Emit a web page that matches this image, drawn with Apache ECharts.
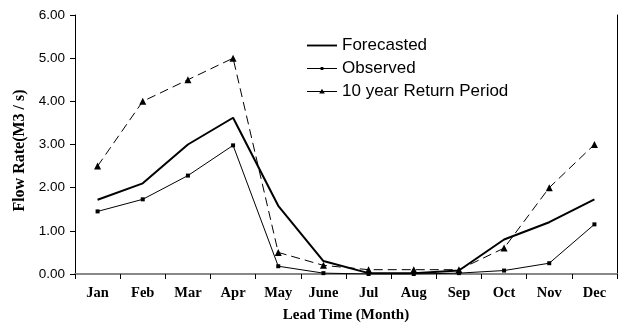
<!DOCTYPE html>
<html><head><meta charset="utf-8">
<script src="https://cdn.jsdelivr.net/npm/echarts@6/dist/echarts.min.js"></script>
<style>html,body{margin:0;padding:0;background:#fff}#c{width:619px;height:324px}</style>
</head><body><div id="c"></div>
<script>
var months = ['Jan','Feb','Mar','Apr','May','June','Jul','Aug','Sep','Oct','Nov','Dec'];
var forecasted = [1.72, 2.10, 3.00, 3.62, 1.58, 0.30, 0.02, 0.02, 0.08, 0.80, 1.20, 1.73];
var observed = [1.45, 1.73, 2.28, 2.98, 0.18, 0.02, 0.00, 0.00, 0.02, 0.08, 0.25, 1.15];
var returnPeriod = [2.50, 4.00, 4.50, 5.00, 0.50, 0.20, 0.10, 0.10, 0.10, 0.60, 2.00, 3.00];
var yTicks = [0, 1, 2, 3, 4, 5, 6];

var serif = 'Liberation Serif, Times New Roman, serif';
var sans = 'Liberation Sans, Arial, sans-serif';
var chart = echarts.init(document.getElementById('c'));
chart.setOption({
  animation: false,
  backgroundColor: '#fff',
  grid: {left: 75, right: 2, top: 15, bottom: 50, containLabel: false, outerBoundsMode: 'none'},
  legend: {
    left: 307, top: 37, orient: 'vertical', itemGap: 6, padding: 0,
    itemWidth: 30, itemHeight: 10,
    textStyle: {fontFamily: sans, fontSize: 17, color: '#000'},
    data: [
      {name: 'Forecasted', icon: 'path://M0,0 M32,10 M0,4 L32,4 L32,6 L0,6 Z'},
      {name: 'Observed', icon: 'path://M0,0 M32,10 M0,4.5 L32,4.5 L32,5.5 L0,5.5 Z M14.5,3.5 L17.5,3.5 L17.5,6.5 L14.5,6.5 Z'},
      {name: '10 year Return Period', icon: 'path://M0,0 M32,10 M0,4.5 L32,4.5 L32,5.5 L0,5.5 Z M16,2 L19,7 L13,7 Z'}
    ]
  },
  xAxis: [{
    type: 'category', data: months, boundaryGap: true,
    axisLine: {lineStyle: {color: '#000', width: 1}},
    axisTick: {show: true, alignWithLabel: false, length: 5, lineStyle: {color: '#000'}},
    axisLabel: {fontFamily: serif, fontWeight: 'bold', fontSize: 14.5, color: '#000', margin: 12},
    name: 'Lead Time (Month)', nameLocation: 'middle', nameGap: 34,
    nameTextStyle: {fontFamily: serif, fontWeight: 'bold', fontSize: 15, color: '#000'}
  }, {
    type: 'category', data: months, position: 'top',
    axisLine: {lineStyle: {color: '#888', width: 2}},
    axisTick: {show: false}, axisLabel: {show: false}
  }],
  yAxis: [{
    type: 'value', min: yTicks[0], max: yTicks[yTicks.length - 1], interval: 1,
    axisLine: {show: true, lineStyle: {color: '#000'}},
    axisTick: {show: true, length: 5, inside: false, lineStyle: {color: '#000'}},
    splitLine: {show: false},
    axisLabel: {fontFamily: sans, fontSize: 13.5, color: '#000', margin: 10,
      formatter: function (v) { return v.toFixed(2); }},
    name: 'Flow Rate(M3 / s)', nameLocation: 'middle', nameGap: 47, nameRotate: 90,
    nameTextStyle: {fontFamily: serif, fontWeight: 'bold', fontSize: 16, color: '#000', padding: [0, 12, 0, 0]}
  }, {
    type: 'value', min: 0, max: 6, interval: 1, position: 'right',
    axisLine: {show: true, lineStyle: {color: '#000'}},
    axisTick: {show: false}, axisLabel: {show: false}, splitLine: {show: false}
  }],
  series: [{
    name: 'Forecasted', type: 'line', data: forecasted,
    showSymbol: false, symbol: 'none',
    lineStyle: {color: '#000', width: 2}, itemStyle: {color: '#000'}
  }, {
    name: 'Observed', type: 'line', data: observed,
    symbol: 'rect', symbolSize: 4,
    lineStyle: {color: '#000', width: 1}, itemStyle: {color: '#000'}
  }, {
    name: '10 year Return Period', type: 'line', data: returnPeriod,
    symbol: 'triangle', symbolSize: 7,
    lineStyle: {color: '#000', width: 1, type: [9, 5]}, itemStyle: {color: '#000'}
  }]
});
</script></body></html>
